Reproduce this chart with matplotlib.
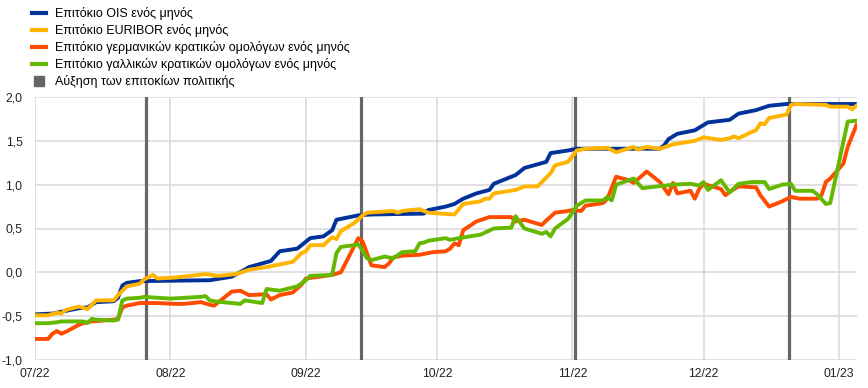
import matplotlib
matplotlib.use("Agg")
import matplotlib.pyplot as plt
import pandas as pd
from matplotlib.lines import Line2D

plt.rcParams['font.family'] = ['Liberation Sans', 'DejaVu Sans']

# ---- data ----
ois_dates = ["2022-07-01","2022-07-05","2022-07-07","2022-07-11","2022-07-13","2022-07-15","2022-07-19","2022-07-20","2022-07-21","2022-07-22","2022-07-25","2022-08-10","2022-08-15","2022-08-18","2022-08-19","2022-08-24","2022-08-26","2022-08-30","2022-09-02","2022-09-05","2022-09-07","2022-09-08","2022-09-12","2022-09-13","2022-09-16","2022-09-28","2022-09-29","2022-10-03","2022-10-05","2022-10-07","2022-10-10","2022-10-13","2022-10-14","2022-10-19","2022-10-21","2022-10-26","2022-10-27","2022-10-31","2022-11-02","2022-11-21","2022-11-22","2022-11-23","2022-11-25","2022-11-29","2022-12-01","2022-12-02","2022-12-07","2022-12-09","2022-12-13","2022-12-16","2022-12-20","2023-01-05"]
ois_vals = [-0.48,-0.47,-0.45,-0.41,-0.40,-0.34,-0.33,-0.29,-0.15,-0.12,-0.10,-0.09,-0.05,0.03,0.06,0.13,0.24,0.27,0.39,0.41,0.48,0.60,0.64,0.65,0.66,0.67,0.71,0.75,0.78,0.84,0.90,0.94,1.01,1.11,1.19,1.26,1.36,1.39,1.41,1.41,1.45,1.52,1.58,1.62,1.68,1.71,1.74,1.81,1.85,1.90,1.92,1.92]

euribor_dates = ["2022-07-01","2022-07-04","2022-07-06","2022-07-07","2022-07-08","2022-07-11","2022-07-13","2022-07-15","2022-07-19","2022-07-20","2022-07-22","2022-07-25","2022-07-26","2022-07-28","2022-07-29","2022-08-02","2022-08-09","2022-08-12","2022-08-16","2022-08-19","2022-08-23","2022-08-25","2022-08-29","2022-08-31","2022-09-01","2022-09-02","2022-09-05","2022-09-07","2022-09-08","2022-09-09","2022-09-12","2022-09-14","2022-09-15","2022-09-21","2022-09-22","2022-09-23","2022-09-27","2022-09-29","2022-10-05","2022-10-07","2022-10-11","2022-10-12","2022-10-13","2022-10-14","2022-10-19","2022-10-21","2022-10-24","2022-10-27","2022-10-28","2022-10-31","2022-11-02","2022-11-04","2022-11-09","2022-11-11","2022-11-15","2022-11-16","2022-11-18","2022-11-21","2022-11-24","2022-11-29","2022-12-01","2022-12-05","2022-12-07","2022-12-08","2022-12-09","2022-12-12","2022-12-13","2022-12-14","2022-12-15","2022-12-16","2022-12-19","2022-12-20","2022-12-21","2022-12-22","2022-12-29","2022-12-30","2023-01-03","2023-01-04","2023-01-05"]
euribor_vals = [-0.49,-0.49,-0.46,-0.47,-0.43,-0.39,-0.42,-0.32,-0.32,-0.26,-0.16,-0.13,-0.08,-0.03,-0.07,-0.06,-0.02,-0.04,-0.02,0.03,0.06,0.08,0.12,0.22,0.24,0.31,0.31,0.40,0.38,0.47,0.56,0.65,0.68,0.70,0.68,0.70,0.72,0.68,0.66,0.78,0.81,0.84,0.84,0.90,0.94,0.98,0.98,1.13,1.22,1.26,1.39,1.41,1.42,1.37,1.43,1.40,1.43,1.41,1.46,1.50,1.54,1.51,1.53,1.55,1.53,1.60,1.62,1.70,1.69,1.76,1.79,1.80,1.91,1.92,1.91,1.89,1.89,1.86,1.90]

de_dates = ["2022-07-01","2022-07-04","2022-07-05","2022-07-06","2022-07-07","2022-07-08","2022-07-11","2022-07-12","2022-07-14","2022-07-19","2022-07-20","2022-07-21","2022-07-22","2022-07-25","2022-07-29","2022-08-02","2022-08-04","2022-08-08","2022-08-10","2022-08-11","2022-08-15","2022-08-17","2022-08-19","2022-08-23","2022-08-24","2022-08-26","2022-08-29","2022-08-31","2022-09-01","2022-09-07","2022-09-09","2022-09-13","2022-09-14","2022-09-16","2022-09-19","2022-09-20","2022-09-21","2022-09-23","2022-09-27","2022-09-30","2022-10-03","2022-10-04","2022-10-05","2022-10-06","2022-10-07","2022-10-10","2022-10-13","2022-10-18","2022-10-19","2022-10-21","2022-10-25","2022-10-26","2022-10-28","2022-10-31","2022-11-01","2022-11-03","2022-11-04","2022-11-08","2022-11-09","2022-11-11","2022-11-14","2022-11-15","2022-11-18","2022-11-21","2022-11-23","2022-11-24","2022-11-25","2022-11-28","2022-11-29","2022-11-30","2022-12-01","2022-12-05","2022-12-06","2022-12-07","2022-12-09","2022-12-13","2022-12-14","2022-12-16","2022-12-19","2022-12-21","2022-12-23","2022-12-27","2022-12-28","2022-12-29","2022-12-30","2023-01-02","2023-01-03","2023-01-05"]
de_vals = [-0.76,-0.76,-0.70,-0.67,-0.70,-0.68,-0.60,-0.58,-0.56,-0.54,-0.53,-0.40,-0.38,-0.35,-0.35,-0.36,-0.36,-0.34,-0.37,-0.38,-0.22,-0.21,-0.26,-0.25,-0.31,-0.26,-0.23,-0.14,-0.07,-0.03,0.00,0.39,0.35,0.08,0.06,0.10,0.17,0.19,0.20,0.23,0.24,0.27,0.33,0.31,0.48,0.58,0.63,0.63,0.58,0.60,0.54,0.59,0.68,0.70,0.71,0.70,0.76,0.79,0.84,1.09,1.05,1.02,1.15,1.03,0.89,1.02,0.90,0.93,0.84,0.95,1.01,0.95,0.88,0.92,0.98,0.97,0.88,0.75,0.81,0.86,0.84,0.84,0.88,1.03,1.07,1.24,1.43,1.68]

fr_dates = ["2022-07-01","2022-07-04","2022-07-06","2022-07-07","2022-07-12","2022-07-13","2022-07-14","2022-07-15","2022-07-19","2022-07-20","2022-07-21","2022-07-22","2022-07-25","2022-07-26","2022-08-01","2022-08-08","2022-08-09","2022-08-10","2022-08-11","2022-08-17","2022-08-18","2022-08-22","2022-08-23","2022-08-26","2022-08-30","2022-09-01","2022-09-02","2022-09-07","2022-09-08","2022-09-09","2022-09-12","2022-09-13","2022-09-15","2022-09-16","2022-09-19","2022-09-21","2022-09-23","2022-09-26","2022-09-27","2022-09-28","2022-09-29","2022-10-03","2022-10-04","2022-10-06","2022-10-11","2022-10-14","2022-10-18","2022-10-19","2022-10-21","2022-10-25","2022-10-26","2022-10-27","2022-10-28","2022-10-31","2022-11-02","2022-11-03","2022-11-04","2022-11-08","2022-11-09","2022-11-10","2022-11-11","2022-11-15","2022-11-17","2022-11-24","2022-11-28","2022-11-30","2022-12-01","2022-12-02","2022-12-05","2022-12-07","2022-12-09","2022-12-12","2022-12-15","2022-12-16","2022-12-19","2022-12-21","2022-12-22","2022-12-26","2022-12-27","2022-12-29","2022-12-30","2023-01-03","2023-01-05"]
fr_vals = [-0.58,-0.58,-0.57,-0.56,-0.56,-0.58,-0.53,-0.54,-0.55,-0.54,-0.32,-0.30,-0.29,-0.28,-0.30,-0.28,-0.27,-0.32,-0.33,-0.36,-0.32,-0.35,-0.19,-0.21,-0.16,-0.09,-0.04,-0.03,0.22,0.29,0.31,0.32,0.16,0.14,0.18,0.16,0.23,0.24,0.33,0.34,0.36,0.39,0.37,0.39,0.43,0.50,0.51,0.64,0.50,0.44,0.46,0.41,0.50,0.61,0.76,0.79,0.82,0.82,0.86,0.82,1.00,1.07,0.96,1.00,1.01,0.99,1.03,0.94,1.05,0.91,1.01,1.03,1.03,0.95,1.00,1.01,0.93,0.93,0.89,0.78,0.79,1.72,1.73]

policy_dates = ["2022-07-26 12:00","2022-09-13 12:00","2022-11-01 12:00","2022-12-20 12:00"]

labels = ["Επιτόκιο OIS ενός μηνός",
          "Επιτόκιο EURIBOR ενός μηνός",
          "Επιτόκιο γερμανικών κρατικών ομολόγων ενός μηνός",
          "Επιτόκιο γαλλικών κρατικών ομολόγων ενός μηνός",
          "Αύξηση των επιτοκίων πολιτικής"]
colors = ["#003299", "#FFB400", "#FF4B00", "#65B800", "#666666"]

month_ticks = ["2022-07-01","2022-08-01","2022-09-01","2022-10-01","2022-11-01","2022-12-01","2023-01-01"]
month_labels = ["07/22","08/22","09/22","10/22","11/22","12/22","01/23"]
y_ticks = [-1.0,-0.5,0.0,0.5,1.0,1.5,2.0]
y_labels = ["-1,0","-0,5","0,0","0,5","1,0","1,5","2,0"]

# ---- figure ----
W, H = 868, 388
fig = plt.figure(figsize=(W/100, H/100), dpi=100)
ax = fig.add_axes([35/W, 28/H, 822/W, 263/H])

for d in policy_dates:
    ax.axvline(pd.Timestamp(d), color=colors[4], lw=2.3, zorder=2)

series = [(ois_dates, ois_vals), (euribor_dates, euribor_vals),
          (de_dates, de_vals), (fr_dates, fr_vals)]
for i, (dts, vals) in enumerate(series):
    ax.plot(pd.to_datetime(dts), vals, color=colors[i], lw=2.8,
            solid_joinstyle='round', zorder=3 + i * 0.01)

ax.set_xlim(pd.Timestamp("2022-07-01"), pd.Timestamp("2023-01-05 03:00"))
ax.set_ylim(-1.0, 2.0)
ax.set_xticks(pd.to_datetime(month_ticks))
ax.set_xticklabels(month_labels)
ax.set_yticks(y_ticks)
ax.set_yticklabels(y_labels)
ax.grid(True, color="#d9d9d9", lw=1.1, zorder=0)
ax.set_axisbelow(True)
for s in ax.spines.values():
    s.set_visible(False)
ax.tick_params(length=0, labelsize=8.7, colors="#222222")
ax.tick_params(axis='y', pad=9)
ax.tick_params(axis='x', pad=6)

handles = [Line2D([0], [0], color=c, lw=3) for c in colors[:4]]
handles.append(Line2D([0], [0], color=colors[4], marker='s', markersize=7.5,
                      linestyle='None'))
fig.legend(handles, labels, loc='upper left', bbox_to_anchor=(30/W, 1 - 5/H),
           frameon=False, fontsize=9, handlelength=1.1, handletextpad=0.75,
           labelspacing=0.33, borderaxespad=0.0, borderpad=0.15)

fig.savefig("out.png", dpi=100)
